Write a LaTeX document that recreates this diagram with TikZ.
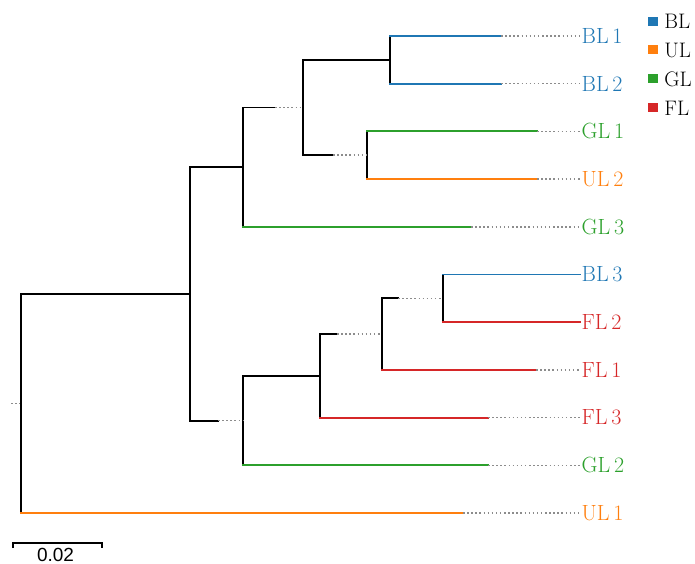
\documentclass[tikz,border=0pt]{standalone}
\usepackage{fontspec}
\newfontfamily\barfont{Liberation Sans}
\usepackage{tikz}
\usetikzlibrary{positioning}
\definecolor{blcol}{HTML}{1F77B4}
\definecolor{ulcol}{HTML}{FF7F0E}
\definecolor{glcol}{HTML}{2CA02C}
\definecolor{flcol}{HTML}{D62728}
\tikzset{
	branch/.style={line width=1.8pt, line cap=rect},
	dots/.style={black!45, line width=1.5pt, dash pattern=on 1.5pt off 2.6pt},
	tip/.style={font=\fontsize{22}{26}\selectfont, anchor=west, inner sep=1.5pt},
	key/.style={minimum width=10pt, minimum height=9pt, inner sep=0pt},
	keytext/.style={font=\fontsize{21}{25}\selectfont, inner sep=0pt},
}

\begin{document}
\begin{tikzpicture}[x=1pt, y=-1pt]
		%%%%% START %%%%%
		\useasboundingbox (0, 0) rectangle (695, 564);
		
		% leaves
		\node[tip, blcol] (bl1) at (580, 36) {BL\,1};
		\node[tip, blcol] (bl2) at (580, 83.7) {BL\,2};
		\node[tip, glcol] (gl1) at (580, 131.4) {GL\,1};
		\node[tip, ulcol] (ul2) at (580, 179.1) {UL\,2};
		\node[tip, glcol] (gl3) at (580, 226.8) {GL\,3};
		\node[tip, blcol] (bl3) at (580, 274.5) {BL\,3};
		\node[tip, flcol] (fl2) at (580, 322.2) {FL\,2};
		\node[tip, flcol] (fl1) at (580, 369.9) {FL\,1};
		\node[tip, flcol] (fl3) at (580, 417.6) {FL\,3};
		\node[tip, glcol] (gl2) at (580, 465.3) {GL\,2};
		\node[tip, ulcol] (ul1) at (580, 513) {UL\,1};
		
		% inner nodes
		\coordinate (stem) at (11, 403.45);
		\coordinate (root) at (21, 403.45);
		\coordinate (n1) at (190, 293.9);
		\coordinate (n2) at (243, 167.2);
		\coordinate (n3) at (303, 107.55);
		\coordinate (n4) at (390, 59.85);
		\coordinate (n5) at (367, 155.25);
		\coordinate (n6) at (243, 420.6);
		\coordinate (n7) at (320, 375.85);
		\coordinate (n8) at (382, 334.1);
		\coordinate (n9) at (443, 298.35);
		
		% where the solid part of a branch stops
		\coordinate (n3s) at (275, 107.55);
		\coordinate (n5s) at (333, 155.25);
		\coordinate (n6s) at (218, 420.6);
		\coordinate (n8s) at (337, 334.1);
		\coordinate (n9s) at (398, 298.35);
		\coordinate (bl1e) at (501, 36);
		\coordinate (bl2e) at (501, 83.7);
		\coordinate (gl1e) at (537, 131.4);
		\coordinate (ul2e) at (537, 179.1);
		\coordinate (gl3e) at (471, 226.8);
		\coordinate (fl1e) at (536, 369.9);
		\coordinate (fl3e) at (488, 417.6);
		\coordinate (gl2e) at (488, 465.3);
		\coordinate (ul1e) at (463, 513);
		
		% verticals
		\draw[dots] (stem) -- (root);
		\draw[branch] (root |- n1) -- (root |- ul1);
		\draw[branch] (n1 |- n2) -- (n1 |- n6);
		\draw[branch] (n2 |- n3) -- (n2 |- gl3);
		\draw[branch] (n3 |- n4) -- (n3 |- n5);
		\draw[branch] (n4 |- bl1) -- (n4 |- bl2);
		\draw[branch] (n5 |- gl1) -- (n5 |- ul2);
		\draw[branch] (n6 |- n7) -- (n6 |- gl2);
		\draw[branch] (n7 |- n8) -- (n7 |- fl3);
		\draw[branch] (n8 |- n9) -- (n8 |- fl1);
		\draw[branch] (n9 |- bl3) -- (n9 |- fl2);
		
		% inner branches
		\draw[branch] (root |- n1) -- (n1);
		\draw[branch] (n1 |- n2) -- (n2);
		\draw[branch] (n2 |- n3) -- (n3s);
		\draw[dots] (n3s) -- (n3);
		\draw[branch] (n3 |- n4) -- (n4);
		\draw[branch] (n3 |- n5) -- (n5s);
		\draw[dots] (n5s) -- (n5);
		\draw[branch] (n1 |- n6) -- (n6s);
		\draw[dots] (n6s) -- (n6);
		\draw[branch] (n6 |- n7) -- (n7);
		\draw[branch] (n7 |- n8) -- (n8s);
		\draw[dots] (n8s) -- (n8);
		\draw[branch] (n8 |- n9) -- (n9s);
		\draw[dots] (n9s) -- (n9);
		
		% leaf branches
		\draw[branch, blcol] (n4 |- bl1) -- (bl1e);
		\draw[dots] (bl1e) -- (bl1.west);
		\draw[branch, blcol] (n4 |- bl2) -- (bl2e);
		\draw[dots] (bl2e) -- (bl2.west);
		\draw[branch, glcol] (n5 |- gl1) -- (gl1e);
		\draw[dots] (gl1e) -- (gl1.west);
		\draw[branch, ulcol] (n5 |- ul2) -- (ul2e);
		\draw[dots] (ul2e) -- (ul2.west);
		\draw[branch, glcol] (n2 |- gl3) -- (gl3e);
		\draw[dots] (gl3e) -- (gl3.west);
		\draw[branch, blcol] (n9 |- bl3) -- (bl3.west);
		\draw[branch, flcol] (n9 |- fl2) -- (fl2.west);
		\draw[branch, flcol] (n8 |- fl1) -- (fl1e);
		\draw[dots] (fl1e) -- (fl1.west);
		\draw[branch, flcol] (n7 |- fl3) -- (fl3e);
		\draw[dots] (fl3e) -- (fl3.west);
		\draw[branch, glcol] (n6 |- gl2) -- (gl2e);
		\draw[dots] (gl2e) -- (gl2.west);
		\draw[branch, ulcol] (root |- ul1) -- (ul1e);
		\draw[dots] (ul1e) -- (ul1.west);
		
		% legend
		\node[key, fill=blcol] (kbl) at (653, 21.5) {};
		\node[keytext, right=6pt of kbl] (tbl) {BL};
		\node[key, fill=ulcol] (kul) at (653, 50) {};
		\node[keytext, right=6pt of kul] (tul) {UL};
		\node[key, fill=glcol] (kgl) at (653, 79) {};
		\node[keytext, right=6pt of kgl] (tgl) {GL};
		\node[key, fill=flcol] (kfl) at (653, 108) {};
		\node[keytext, right=6pt of kfl] (tfl) {FL};
		
		% scale bar
		\coordinate (sl) at (13, 543);
		\coordinate (sr) at (102, 543);
		\draw[line width=1.8pt] ([yshift=-5pt]sl) -- (sl) -- (sr) -- ([yshift=-5pt]sr);
		\node[font=\barfont\fontsize{19}{23}\selectfont, anchor=north, inner sep=0pt] (scale) at (55.5, 548) {0.02};
		
		%%%%% END %%%%%
	\end{tikzpicture}
\end{document}
